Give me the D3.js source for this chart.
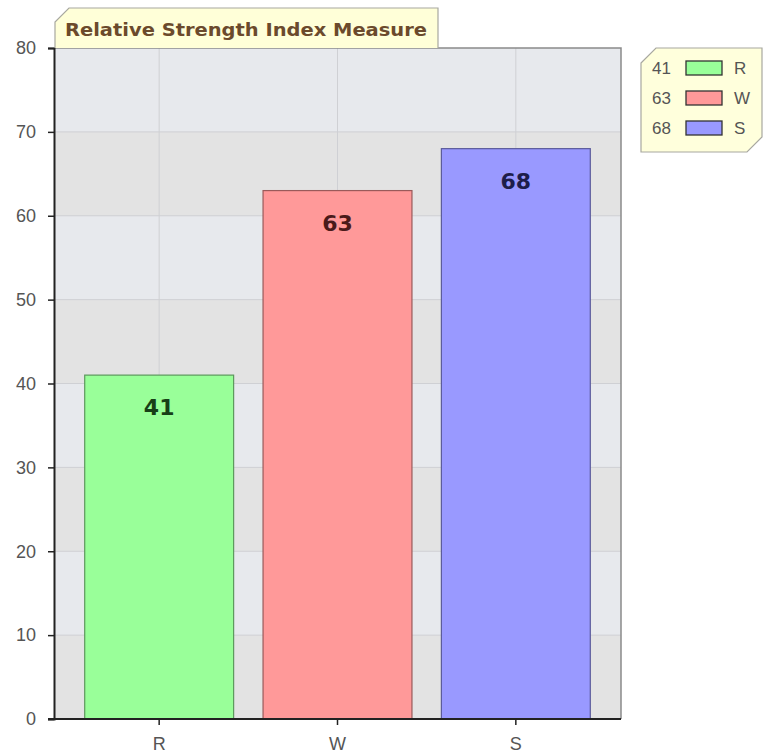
<!DOCTYPE html>
<html>
<head>
<meta charset="utf-8">
<script src="https://cdn.jsdelivr.net/npm/d3@7/dist/d3.min.js"></script>
<style>
  html, body { margin: 0; padding: 0; background: #ffffff; }
  svg { display: block; }
</style>
</head>
<body>
<svg id="chart" width="763" height="754"></svg>
<script>
// RSI components
const categories = ["R", "W", "S"];
const values = [41, 63, 68];
const fills = ["#99ff99", "#ff9999", "#9999ff"];
const strokes = ["#5c985c", "#9a5a5a", "#5a5a9a"];
const labelColors = ["#173f17", "#4a1a1a", "#1d1d4a"];
const yTicks = [0, 10, 20, 30, 40, 50, 60, 70, 80];
const titleText = "Relative Strength Index Measure";

const svg = d3.select("#chart");
const plot = { left: 54, right: 621, top: 48, bottom: 719 };

const y = d3.scaleLinear().domain([0, 80]).range([plot.bottom, plot.top]);
const x = d3.scaleBand().domain(categories)
  .range([plot.left + 16, plot.right - 16])
  .paddingInner(0.165).paddingOuter(0.0825);

// plot background with alternating horizontal bands
svg.append("rect")
  .attr("x", plot.left).attr("y", plot.top)
  .attr("width", plot.right - plot.left).attr("height", plot.bottom - plot.top)
  .attr("fill", "#e3e3e3");
const bands = d3.range(0, 80, 10);
svg.append("g").selectAll("rect").data(bands).join("rect")
  .attr("x", plot.left)
  .attr("y", d => y(d + 10))
  .attr("width", plot.right - plot.left)
  .attr("height", d => y(d) - y(d + 10))
  .attr("fill", (d, i) => (i % 2 === 1 ? "#e7e9ed" : "#e3e3e3"));

// grid lines
svg.append("g").selectAll("line").data(yTicks.slice(1, -1)).join("line")
  .attr("x1", plot.left).attr("x2", plot.right)
  .attr("y1", d => y(d)).attr("y2", d => y(d))
  .attr("stroke", "#cfd0d4").attr("stroke-width", 1);
svg.append("g").selectAll("line").data(categories).join("line")
  .attr("x1", d => x(d) + x.bandwidth() / 2).attr("x2", d => x(d) + x.bandwidth() / 2)
  .attr("y1", plot.top).attr("y2", plot.bottom)
  .attr("stroke", "#cfd0d4").attr("stroke-width", 1);

// plot frame (right and top)
svg.append("path")
  .attr("d", `M${plot.left},${plot.top}H${plot.right}V${plot.bottom}`)
  .attr("fill", "none").attr("stroke", "#8a8a8a").attr("stroke-width", 1.5);

// bars
svg.append("g").selectAll("rect").data(values).join("rect")
  .attr("x", (d, i) => x(categories[i]))
  .attr("y", d => y(d))
  .attr("width", x.bandwidth())
  .attr("height", d => y(0) - y(d))
  .attr("fill", (d, i) => fills[i])
  .attr("stroke", (d, i) => strokes[i])
  .attr("stroke-width", 1.2);

// value labels
svg.append("g").selectAll("text").data(values).join("text")
  .attr("x", (d, i) => x(categories[i]) + x.bandwidth() / 2)
  .attr("y", d => y(d) + 40)
  .attr("text-anchor", "middle")
  .attr("font-family", "Verdana, 'DejaVu Sans', sans-serif")
  .attr("font-weight", "bold")
  .attr("font-size", 22)
  .attr("fill", (d, i) => labelColors[i])
  .text(d => d);

// y axis
const yAxis = svg.append("g")
  .attr("transform", `translate(${plot.left},0)`)
  .call(d3.axisLeft(y).tickValues(yTicks).tickSize(6).tickPadding(12));
yAxis.select(".domain").attr("stroke", "#222").attr("stroke-width", 2);
yAxis.selectAll(".tick line").attr("stroke", "#222").attr("stroke-width", 1.5);
yAxis.selectAll(".tick text")
  .attr("font-family", "Arial, 'Liberation Sans', sans-serif")
  .attr("font-size", 18).attr("fill", "#555");

// x axis
const xAxis = svg.append("g")
  .attr("transform", `translate(0,${plot.bottom})`)
  .call(d3.axisBottom(x).tickSize(6).tickPadding(12).tickSizeOuter(0));
xAxis.select(".domain")
  .attr("d", `M${plot.left - 6},0H${plot.right}`)
  .attr("stroke", "#222").attr("stroke-width", 2);
xAxis.selectAll(".tick line").attr("stroke", "#222").attr("stroke-width", 1.5);
xAxis.selectAll(".tick text")
  .attr("font-family", "Arial, 'Liberation Sans', sans-serif")
  .attr("font-size", 18).attr("fill", "#555");

// title tab with a clipped top-left corner
const tb = { x0: 55, y0: 8, x1: 438, y1: 48, cut: 14 };
svg.append("path")
  .attr("d", `M${tb.x0},${tb.y1}V${tb.y0 + tb.cut}L${tb.x0 + tb.cut},${tb.y0}H${tb.x1}V${tb.y1}`)
  .attr("fill", "#ffffd8").attr("stroke", "#a8a8a0").attr("stroke-width", 1.2);
svg.append("text")
  .attr("x", 65).attr("y", 36)
  .attr("font-family", "Verdana, 'DejaVu Sans', sans-serif")
  .attr("font-weight", "bold").attr("font-size", 18)
  .attr("textLength", 362).attr("lengthAdjust", "spacingAndGlyphs")
  .attr("fill", "#6b4a2c")
  .text(titleText);

// legend box with clipped corners
const lg = { x0: 641, y0: 48, x1: 762, y1: 152, cut: 15 };
svg.append("path")
  .attr("d", `M${lg.x0},${lg.y0 + lg.cut}L${lg.x0 + lg.cut},${lg.y0}H${lg.x1}V${lg.y1 - lg.cut}L${lg.x1 - lg.cut},${lg.y1}H${lg.x0}Z`)
  .attr("fill", "#ffffdc").attr("stroke", "#a8a8a0").attr("stroke-width", 1.2);
const rowY = d3.scalePoint().domain(categories).range([68, 128]);
const legendRows = svg.append("g").selectAll("g").data(categories).join("g")
  .attr("transform", d => `translate(0,${rowY(d)})`);
legendRows.append("text")
  .attr("x", 652).attr("y", 6)
  .attr("font-family", "Arial, 'Liberation Sans', sans-serif")
  .attr("font-size", 17).attr("fill", "#555")
  .text((d, i) => values[i]);
legendRows.append("rect")
  .attr("x", 686).attr("y", -7).attr("width", 36).attr("height", 14)
  .attr("fill", (d, i) => fills[i]).attr("stroke", "#333").attr("stroke-width", 1.3);
legendRows.append("text")
  .attr("x", 734).attr("y", 6)
  .attr("font-family", "Arial, 'Liberation Sans', sans-serif")
  .attr("font-size", 17).attr("fill", "#555")
  .text(d => d);
</script>
</body>
</html>
